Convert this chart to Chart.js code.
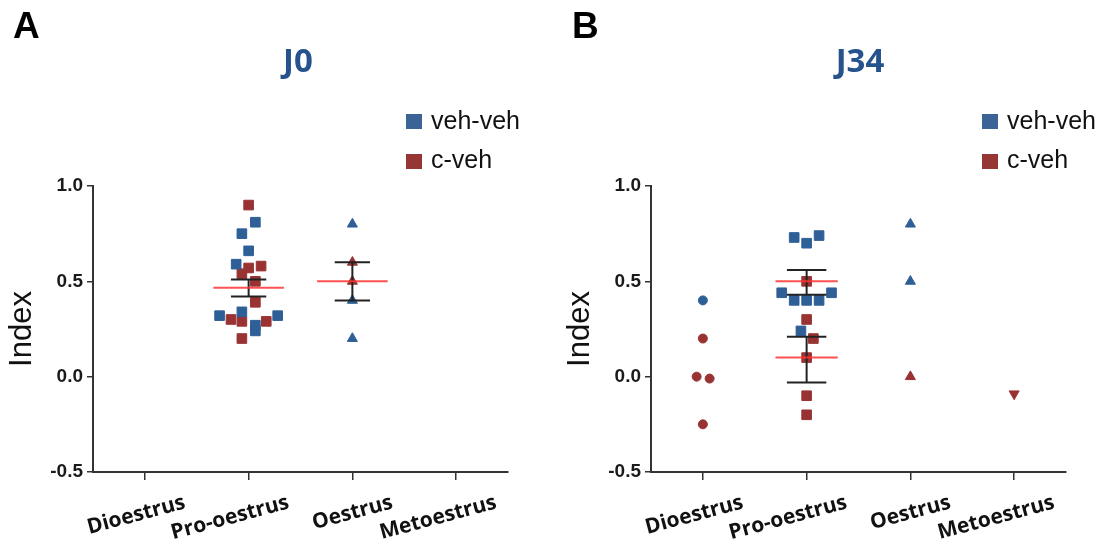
<!DOCTYPE html>
<html>
<head>
<meta charset="utf-8">
<script src="https://cdn.jsdelivr.net/npm/chart.js@4.4.1/dist/chart.umd.min.js"></script>
<style>
  html, body { margin: 0; padding: 0; background: #fff; }
  #page { position: relative; width: 1099px; height: 547px; overflow: hidden; font-family: "Liberation Sans", Arial, sans-serif; }
  .panel { position: absolute; top: 0; height: 547px; }
  .letter { position: absolute; top: 5px; font-weight: bold; font-size: 37px; color: #000; }
  .title { position: absolute; top: 37px; width: 200px; text-align: center; font-family: "Open Sans"; font-weight: 700; font-size: 33px; color: #27538d; }
  .key { position: absolute; font-size: 25px; color: #111; white-space: nowrap; }
  .sq { position: absolute; width: 16px; height: 15px; }
</style>
</head>
<body>
<div id="page">
  <div class="panel" style="left:0;width:558px"><canvas id="chartA"></canvas></div>
  <div class="panel" style="left:558px;width:541px"><canvas id="chartB"></canvas></div>

  <div class="letter" style="left:13px">A</div>
  <div class="title" style="left:198px">J0</div>
  <div class="sq" style="left:406px;top:114px;background:#3a6396"></div>
  <div class="key" style="left:431px;top:106px">veh-veh</div>
  <div class="sq" style="left:406px;top:154px;background:#953735"></div>
  <div class="key" style="left:431px;top:145px">c-veh</div>

  <div class="letter" style="left:572px">B</div>
  <div class="title" style="left:760px">J34</div>
  <div class="sq" style="left:982px;top:114px;background:#3a6396"></div>
  <div class="key" style="left:1007px;top:106px">veh-veh</div>
  <div class="sq" style="left:982px;top:154px;background:#953735"></div>
  <div class="key" style="left:1007px;top:145px">c-veh</div>
</div>
<script>
const categories = ['Dioestrus', 'Pro-oestrus', 'Oestrus', 'Metoestrus'];
const yTicks = [-0.5, 0, 0.5, 1.0];

// J0 - veh-veh (blue)
const j0VehCat   = [2, 2, 2, 2, 2, 2, 2, 2, 2, 3, 3, 3];
const j0VehY     = [0.81, 0.75, 0.66, 0.59, 0.34, 0.32, 0.32, 0.27, 0.24, 0.80, 0.40, 0.20];
const j0VehShift = [0.065, -0.065, 0, -0.12, -0.065, -0.28, 0.28, 0.065, 0.065, 0, 0, 0];
// J0 - c-veh (red)
const j0CvehCat   = [2, 2, 2, 2, 2, 2, 2, 2, 2, 2, 3, 3];
const j0CvehY     = [0.90, 0.57, 0.58, 0.54, 0.50, 0.39, 0.30, 0.29, 0.29, 0.20, 0.60, 0.50];
const j0CvehShift = [0, 0, 0.12, -0.065, 0.065, 0.065, -0.17, -0.065, 0.17, -0.065, 0, 0];
// J0 mean +/- SEM
const j0StatCat = [2, 3];
const j0Mean    = [0.466, 0.50];
const j0Low     = [0.42, 0.40];
const j0High    = [0.51, 0.60];

// J34 - veh-veh (blue)
const j34VehCat   = [1, 2, 2, 2, 2, 2, 2, 2, 2, 2, 3, 3];
const j34VehY     = [0.40, 0.73, 0.70, 0.74, 0.44, 0.44, 0.40, 0.40, 0.40, 0.24, 0.80, 0.50];
const j34VehShift = [0, -0.12, 0, 0.12, -0.24, 0.24, -0.12, 0, 0.12, -0.055, 0, 0];
// J34 - c-veh (red)
const j34CvehCat   = [1, 1, 1, 1, 2, 2, 2, 2, 2, 2, 3, 4];
const j34CvehY     = [0.20, 0.00, -0.01, -0.25, 0.50, 0.30, 0.20, 0.10, -0.10, -0.20, 0.00, -0.09];
const j34CvehShift = [0, -0.06, 0.065, 0, 0, 0, 0.065, 0, 0, 0, 0, 0];
// J34 mean +/- SEM (veh-veh, c-veh)
const j34StatCat = [2, 2];
const j34Mean    = [0.50, 0.10];
const j34Low     = [0.43, -0.03];
const j34High    = [0.56, 0.21];

const BLUE = '#2f5f97';
const RED = '#993333';
const MEAN = 'rgba(255, 50, 50, 0.85)';
const BAR = '#222';
// marker per category: circle, square, triangle, inverted triangle
const catStyle = ['circle', 'rect', 'triangle', 'triangle'];
const catRot = [0, 0, 0, 180];
const catRad = [4.5, 6.8, 5.8, 5.8];

function points(cat, ys, shift, color, label) {
  return {
    type: 'scatter',
    label: label,
    data: ys.map((y, i) => ({ x: cat[i] + shift[i], y: y })),
    pointStyle: cat.map(c => catStyle[c - 1]),
    pointRotation: cat.map(c => catRot[c - 1]),
    pointRadius: cat.map(c => catRad[c - 1]),
    pointBackgroundColor: color,
    pointBorderColor: color,
    pointBorderWidth: 1,
    showLine: false,
    order: 3
  };
}

function seg(x1, x2, y1, y2, color, order) {
  return {
    type: 'line',
    data: [{ x: x1, y: y1 }, { x: x2, y: y2 }],
    borderColor: color,
    borderWidth: 2,
    pointRadius: 0,
    fill: false,
    order: order
  };
}

function stats(cat, mean, low, high, meanHalf, capHalf) {
  var out = [];
  cat.forEach(function (c, i) {
    out.push(seg(c - meanHalf, c + meanHalf, mean[i], mean[i], MEAN, 0));
    out.push(seg(c, c, low[i], high[i], BAR, 1));
    out.push(seg(c - capHalf, c + capHalf, low[i], low[i], BAR, 1));
    out.push(seg(c - capHalf, c + capHalf, high[i], high[i], BAR, 1));
  });
  return out;
}

function makeChart(id, panelWidth, datasets) {
  return new Chart(document.getElementById(id), {
    type: 'scatter',
    data: { datasets: datasets },
    options: {
      responsive: true,
      maintainAspectRatio: false,
      animation: false,
      layout: { padding: { top: 186, right: panelWidth - 508, bottom: 0, left: 0 } },
      plugins: { legend: { display: false }, tooltip: { enabled: false } },
      scales: {
        x: {
          type: 'linear',
          min: 0.5,
          max: 4.5,
          afterBuildTicks: s => { s.ticks = categories.map((c, i) => ({ value: i + 1 })); },
          afterFit: s => { s.height = 75; },
          border: { display: true, color: '#333', width: 2 },
          grid: { drawOnChartArea: false, drawTicks: true, tickLength: 8, color: '#333', lineWidth: 1.5 },
          ticks: {
            autoSkip: false,
            minRotation: 15,
            maxRotation: 15,
            labelOffset: 40,
            padding: 10,
            color: '#111',
            font: { family: 'Open Sans', weight: 'bold', size: 21 },
            callback: v => categories[Math.round(v) - 1]
          }
        },
        y: {
          min: -0.5,
          max: 1.0,
          afterBuildTicks: s => { s.ticks = yTicks.map(v => ({ value: v })); },
          afterFit: s => { s.width = 93; },
          border: { display: true, color: '#333', width: 2 },
          grid: { drawOnChartArea: false, drawTicks: true, tickLength: 6, color: '#333', lineWidth: 1.5 },
          ticks: {
            padding: 4,
            color: '#1a1a1a',
            font: { family: 'Liberation Sans', weight: 'bold', size: 19 },
            callback: v => Number(v).toFixed(1)
          },
          title: {
            display: true,
            text: 'Index',
            color: '#111',
            font: { family: 'Liberation Sans', size: 31 },
            padding: { top: 4, bottom: 0 }
          }
        }
      }
    }
  });
}

makeChart('chartA', 558, [
  points(j0VehCat, j0VehY, j0VehShift, BLUE, 'veh-veh'),
  points(j0CvehCat, j0CvehY, j0CvehShift, RED, 'c-veh')
].concat(stats(j0StatCat, j0Mean, j0Low, j0High, 0.34, 0.17)));

makeChart('chartB', 541, [
  points(j34VehCat, j34VehY, j34VehShift, BLUE, 'veh-veh'),
  points(j34CvehCat, j34CvehY, j34CvehShift, RED, 'c-veh')
].concat(stats(j34StatCat, j34Mean, j34Low, j34High, 0.30, 0.19)));
</script>
</body>
</html>
